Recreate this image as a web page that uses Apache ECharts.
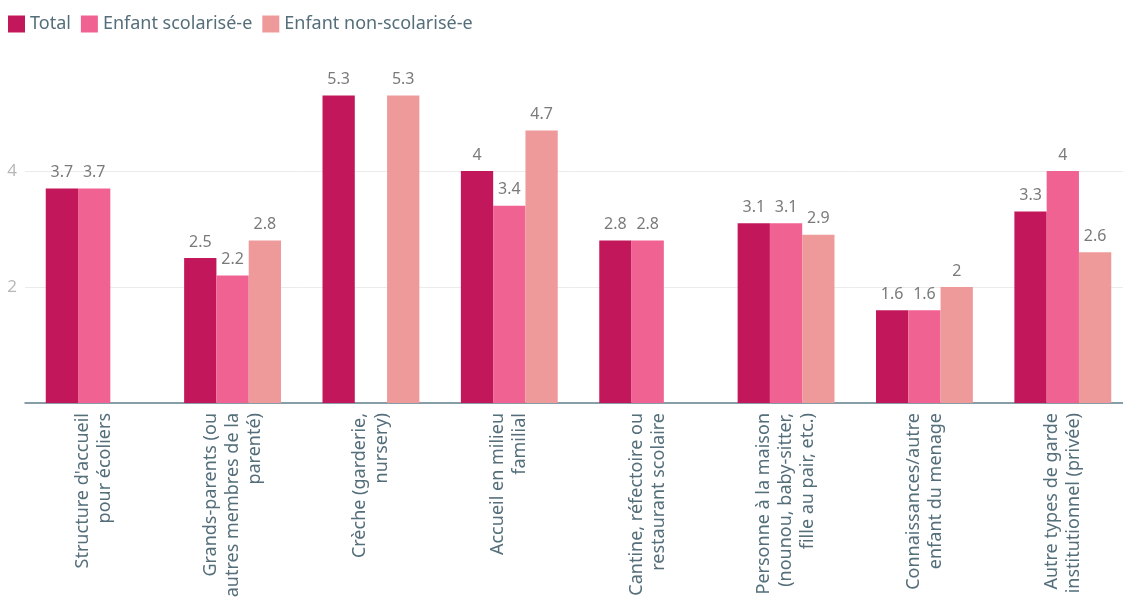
<!DOCTYPE html>
<html>
<head>
<meta charset="utf-8">
<script src="https://cdn.jsdelivr.net/npm/echarts@6/dist/echarts.min.js"></script>
<style>
  html, body { margin: 0; padding: 0; background: #fff; }
  #chart { width: 1123px; height: 600px; }
</style>
</head>
<body>
<div id="chart"></div>
<script>
// categories and values
const categories = [
  "Structure d'accueil\npour écoliers",
  'Grands-parents (ou\nautres membres de la\nparenté)',
  'Crèche (garderie,\nnursery)',
  'Accueil en milieu\nfamilial',
  'Cantine, réfectoire ou\nrestaurant scolaire',
  'Personne à la maison\n(nounou, baby-sitter,\nfille au pair, etc.)',
  'Connaissances/autre\nenfant du menage',
  'Autre types de garde\ninstitutionnel (privée)'
];
const seriesNames = ['Total', 'Enfant scolarisé-e', 'Enfant non-scolarisé-e'];
const total = [3.7, 2.5, 5.3, 4, 2.8, 3.1, 1.6, 3.3];
const scolarise = [3.7, 2.2, null, 3.4, 2.8, 3.1, 1.6, 4];
const nonScolarise = [null, 2.8, 5.3, 4.7, null, 2.9, 2, 2.6];
const yTicks = [2, 4];

const colors = ['#c2185b', '#f06292', '#ef9a9a'];
const font = 'Noto Sans';

const chart = echarts.init(document.getElementById('chart'));

function barSeries(name, data, i) {
  const s = {
    name: name,
    type: 'bar',
    data: data,
    barGap: '0%',
    barCategoryGap: '30%',
    itemStyle: { color: colors[i] },
    label: {
      show: true,
      position: 'top',
      distance: 8,
      color: '#7a7a7a',
      fontSize: 16,
      fontFamily: font
    }
  };
  if (i === 0) {
    // light horizontal gridlines at the tick values
    s.markLine = {
      silent: true,
      symbol: 'none',
      label: { show: false },
      lineStyle: { color: '#ebebeb', width: 1, type: 'solid' },
      data: yTicks.map(v => ({ yAxis: v })),
      z: 0
    };
  }
  return s;
}

chart.setOption({
  animation: false,
  textStyle: { fontFamily: font },
  legend: {
    left: 8,
    top: 15,
    padding: 0,
    itemWidth: 17,
    itemHeight: 17,
    itemGap: 10,
    icon: 'rect',
    textStyle: { fontSize: 18, color: '#546e7a', fontFamily: font },
    data: seriesNames
  },
  grid: {
    left: 25, width: 1107, top: 95.6, bottom: 197,
    containLabel: false, outerBoundsMode: 'none'
  },
  xAxis: {
    type: 'category',
    data: categories,
    axisLine: { lineStyle: { color: '#607d8b', width: 1.5 } },
    axisTick: { show: false },
    axisLabel: {
      interval: 0,
      rotate: 90,
      margin: 10,
      fontSize: 18,
      lineHeight: 22,
      color: '#546e7a',
      fontFamily: font
    }
  },
  yAxis: {
    type: 'value',
    min: 0,
    max: 5.3,
    interval: 2,
    splitLine: { show: false },
    axisLine: { show: false },
    axisTick: { show: false },
    axisLabel: {
      margin: 8,
      fontSize: 17,
      color: '#b8b8b8',
      fontFamily: font,
      formatter: v => (yTicks.includes(v) ? String(v) : '')
    }
  },
  series: [
    barSeries(seriesNames[0], total, 0),
    barSeries(seriesNames[1], scolarise, 1),
    barSeries(seriesNames[2], nonScolarise, 2)
  ]
});
</script>
</body>
</html>
